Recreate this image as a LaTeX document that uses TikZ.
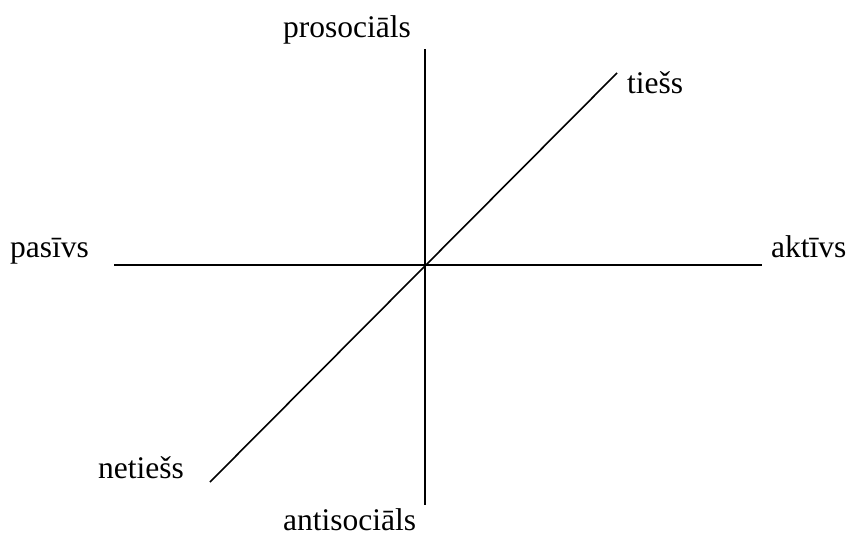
\documentclass[tikz,border=0pt]{standalone}
\usepackage{fontspec}
\setmainfont{Liberation Serif}
\begin{document}
\begin{tikzpicture}[x=1pt,y=-1pt,
  axis/.style={line width=1.6pt,black},
  lbl/.style={inner sep=0pt,anchor=base west,font=\fontsize{31.5}{36}\selectfont}]
\useasboundingbox (0,0) rectangle (849,538);
\coordinate (vtop) at (425,49);
\coordinate (vbot) at (425,505);
\coordinate (hl) at (114,265);
\coordinate (hr) at (762,265);
\coordinate (dtop) at (617,73);
\coordinate (dbot) at (210,482);
\draw[axis] (vtop) -- (vbot);
\draw[axis] (hl) -- (hr);
\draw[axis] (dbot) -- (dtop);
\node[lbl] (pro) at (283,37) {prosociāls};
\node[lbl] (tie) at (627,93) {tiešs};
\node[lbl] (pas) at (10,257) {pasīvs};
\node[lbl] (akt) at (771,257) {aktīvs};
\node[lbl] (net) at (98,478) {netiešs};
\node[lbl] (ant) at (283,530) {antisociāls};
\end{tikzpicture}
\end{document}
